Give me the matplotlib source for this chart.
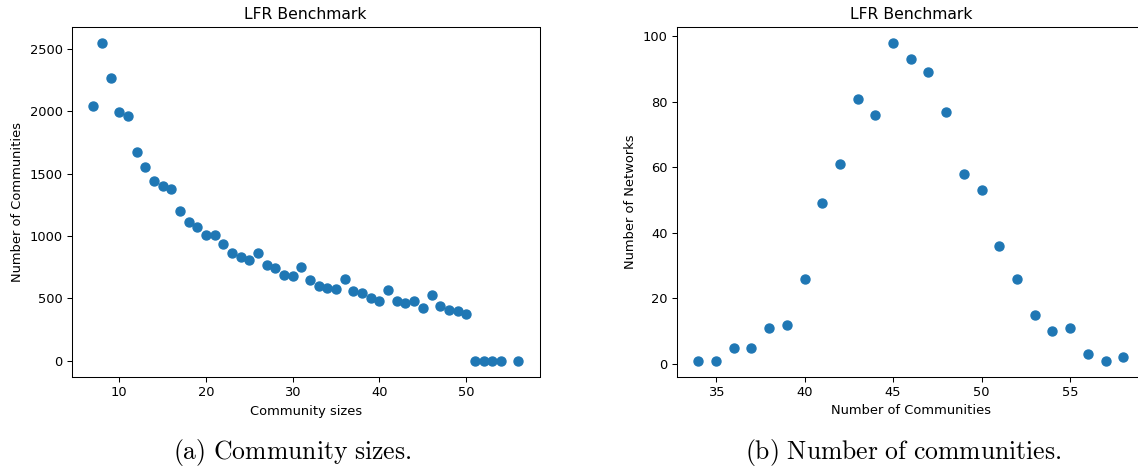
import matplotlib
matplotlib.use("Agg")
import matplotlib.pyplot as plt

plt.rcParams['mathtext.fontset'] = 'cm'

# Left panel: community size distribution
sizes = [7, 8, 9, 10, 11, 12, 13, 14, 15, 16, 17, 18, 19, 20, 21, 22, 23, 24, 25, 26,
         27, 28, 29, 30, 31, 32, 33, 34, 35, 36, 37, 38, 39, 40, 41, 42, 43, 44, 45, 46,
         47, 48, 49, 50, 51, 52, 53, 54, 56]
size_counts = [2045, 2550, 2265, 1995, 1960, 1675, 1555, 1440, 1405, 1380, 1200, 1115, 1075,
               1005, 1005, 935, 860, 830, 810, 865, 770, 745, 685, 680, 750, 645, 595, 580,
               575, 655, 555, 540, 505, 475, 570, 475, 465, 475, 425, 525, 435, 410, 395, 375,
               0, 0, 0, 0, 0]

# Right panel: number of communities per network
n_comms = [34, 35, 36, 37, 38, 39, 40, 41, 42, 43, 44, 45, 46, 47, 48, 49, 50, 51, 52, 53,
           54, 55, 56, 57, 58]
n_networks = [1, 1, 5, 5, 11, 12, 26, 49, 61, 81, 76, 98, 93, 89, 77, 58, 53, 36, 26, 15,
              10, 11, 3, 1, 2]

W, H = 1138, 471
fig = plt.figure(figsize=(W / 100, H / 100), dpi=100)

def rect(l, t, r, b):
    return [l / W, 1 - b / H, (r - l) / W, (b - t) / H]

ax1 = fig.add_axes(rect(72, 27, 539.5, 376.5))
ax2 = fig.add_axes(rect(677, 27, 1144.5, 376.5))

base = 9.4
color = '#1f77b4'
for ax in (ax1, ax2):
    ax.tick_params(labelsize=base, length=3.3, width=0.75)
    for sp in ax.spines.values():
        sp.set_linewidth(0.75)

ax1.scatter(sizes, size_counts, s=42, color=color)
ax1.set_title('LFR Benchmark', fontsize=base * 1.2)
ax1.set_xlabel('Community sizes', fontsize=base)
ax1.set_ylabel('Number of Communities', fontsize=base)

ax2.scatter(n_comms, n_networks, s=42, color=color)
ax2.set_title('LFR Benchmark', fontsize=base * 1.2)
ax2.set_xlabel('Number of Communities', fontsize=base)
ax2.set_ylabel('Number of Networks', fontsize=base)
ax2.set_xticks([35, 40, 45, 50, 55])

fig.text(292 / W, 1 - 452 / H, r'$\mathrm{(a)\ Community\ sizes.}$', fontsize=18.5,
         ha='center', va='center')
fig.text(903 / W, 1 - 452 / H, r'$\mathrm{(b)\ Number\ of\ communities.}$', fontsize=18.5,
         ha='center', va='center')

fig.savefig('out.png', dpi=100)
